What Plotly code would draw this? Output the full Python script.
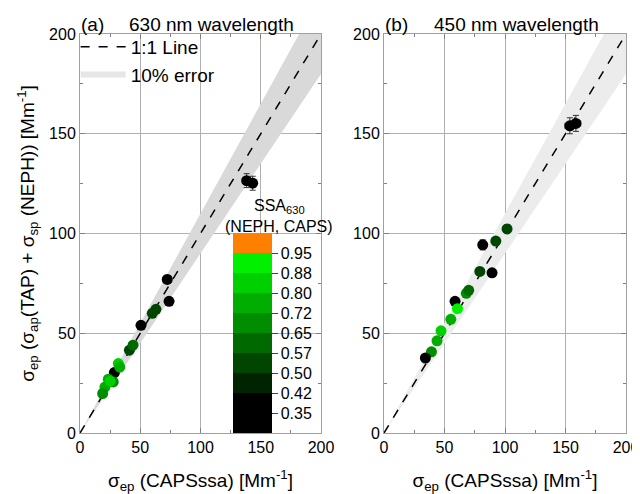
import plotly.graph_objects as go
from plotly.subplots import make_subplots

# ---------------- data ----------------
# Panel (a) 630 nm
a_x = [138.3, 143.3, 72.4, 73.9, 60.0, 63.0, 50.6, 41.0, 44.0, 28.5, 31.8, 33.0, 23.5, 27.6, 20.7, 18.8, 25.0]
a_y = [126.5, 125.2, 77.0, 66.0, 60.0, 62.0, 54.0, 41.5, 44.0, 30.3, 34.8, 33.0, 27.0, 25.6, 23.0, 19.8, 26.0]
a_ssa = [0.36, 0.38, 0.38, 0.40, 0.52, 0.54, 0.40, 0.55, 0.58, 0.40, 0.83, 0.78, 0.78, 0.70, 0.76, 0.68, 0.80]
a_ex = [3.0, 3.0, 1.5, 1.5, 1.0, 1.0, 1.0, 1.0, 1.0, 0.8, 0.8, 0.8, 0.6, 0.6, 0.6, 0.6, 0.6]
a_ey = [3.5, 3.5, 2.0, 1.5, 1.0, 1.0, 1.0, 1.0, 1.0, 0.8, 0.8, 0.8, 0.6, 0.6, 0.6, 0.6, 0.6]

# Panel (b) 450 nm
b_x = [153.6, 158.6, 101.7, 81.6, 92.4, 79.2, 89.3, 68.0, 70.0, 58.7, 60.7, 55.2, 47.1, 43.8, 39.2, 34.2]
b_y = [154.0, 155.2, 102.3, 94.3, 96.2, 81.0, 80.3, 70.0, 71.5, 66.0, 62.3, 57.0, 51.2, 46.2, 40.7, 37.6]
b_ssa = [0.37, 0.38, 0.53, 0.38, 0.55, 0.56, 0.40, 0.66, 0.62, 0.40, 0.90, 0.75, 0.85, 0.76, 0.70, 0.38]
b_ex = [4.0, 4.0, 1.5, 1.5, 1.5, 1.2, 1.2, 1.0, 1.0, 1.0, 1.0, 0.8, 0.8, 0.8, 0.8, 0.8]
b_ey = [4.0, 4.0, 2.0, 2.5, 1.5, 1.2, 1.2, 1.5, 1.0, 1.0, 1.0, 0.8, 0.8, 0.8, 0.8, 0.8]

# colour scale bins
bin_edges = [0.27, 0.345, 0.42, 0.495, 0.57, 0.645, 0.72, 0.795, 0.87, 0.945, 1.02]
bin_colors = ["#000000", "#000000", "#002400", "#004600", "#006a00", "#008e00",
              "#00ad00", "#00cf00", "#00f000", "#ff8000"]
cb_tickvals = [0.345, 0.42, 0.495, 0.57, 0.645, 0.72, 0.795, 0.87, 0.945]
cb_ticktext = ["0.35", "0.42", "0.50", "0.57", "0.65", "0.72", "0.80", "0.88", "0.95"]

line_x = [0, 200]
line_y = [0, 200]
band_x = [0, 200, 200, 0]
band_y = [0, 180, 220, 0]

# ---------------- build ----------------
cmin, cmax = bin_edges[0], bin_edges[-1]
colorscale = []
for i, c in enumerate(bin_colors):
    lo = (bin_edges[i] - cmin) / (cmax - cmin)
    hi = (bin_edges[i + 1] - cmin) / (cmax - cmin)
    colorscale.append([lo, c])
    colorscale.append([hi, c])

FONT = "Arial, Liberation Sans, sans-serif"

fig = make_subplots(rows=1, cols=2, horizontal_spacing=0.1154)
fig.update_layout(xaxis=dict(domain=[0, 0.4414]), xaxis2=dict(domain=[0.5568, 1]))

band_colors = ["#d9d9d9", "#ececec"]
for col in (1, 2):
    fig.add_trace(go.Scatter(x=band_x, y=band_y, fill="toself", mode="none",
                             fillcolor=band_colors[col - 1], name="10% error",
                             showlegend=False, hoverinfo="skip"), row=1, col=col)

fig.add_trace(go.Scatter(x=line_x, y=line_y, mode="lines", name="1:1 Line",
                         line=dict(color="black", dash="dash", width=1.5),
                         showlegend=True), row=1, col=1)
fig.add_trace(go.Scatter(x=line_x, y=line_y, mode="lines", name="1:1 Line",
                         line=dict(color="black", dash="dash", width=1.5),
                         showlegend=False), row=1, col=2)
fig.add_trace(go.Scatter(x=[None], y=[None], fill="toself", mode="none",
                         fillcolor="#e6e6e6", name="10% error", showlegend=True),
              row=1, col=1)

for col, (xs, ys, ss, ex, ey) in enumerate([(a_x, a_y, a_ssa, a_ex, a_ey),
                                             (b_x, b_y, b_ssa, b_ex, b_ey)], start=1):
    marker = dict(size=11, color=ss, colorscale=colorscale, cmin=cmin, cmax=cmax,
                  line=dict(width=0))
    if col == 1:
        marker.update(showscale=True, colorbar=dict(
            x=0.280, xanchor="left", y=0, yanchor="bottom", len=0.501, lenmode="fraction",
            thickness=39, xpad=0, ypad=0, outlinewidth=0,
            tickvals=cb_tickvals, ticktext=cb_ticktext, ticks="outside", ticklen=6,
            tickcolor="#444", tickfont=dict(size=16, color="black", family=FONT)))
    else:
        marker.update(showscale=False)
    fig.add_trace(go.Scatter(x=xs, y=ys, mode="markers", marker=marker, showlegend=False,
                             error_x=dict(type="data", array=ex, color="#333", thickness=1, width=3),
                             error_y=dict(type="data", array=ey, color="#333", thickness=1, width=3)),
                  row=1, col=col)

axis_common = dict(range=[0, 200], tickvals=[0, 50, 100, 150, 200], showgrid=True,
                   gridcolor="#b0b0b0", gridwidth=1, zeroline=False, showline=True,
                   linecolor="#a0a0a0", linewidth=1, mirror="ticks", ticks="inside",
                   ticklen=5, tickcolor="#808080", automargin=False,
                   minor=dict(dtick=25, tick0=0, ticks="inside", ticklen=3, tickcolor="#808080", showgrid=False),
                   tickfont=dict(size=16, color="black"))
fig.update_xaxes(**axis_common)
fig.update_yaxes(**axis_common)

xt = "σ<sub>ep</sub> (CAPSssa) [Mm<sup>-1</sup>]"
fig.update_xaxes(title=dict(text=xt, font=dict(size=19, color="black"), standoff=19), row=1, col=1)
fig.update_xaxes(title=dict(text=xt, font=dict(size=19, color="black"), standoff=19), row=1, col=2)
fig.update_yaxes(title=dict(text="σ<sub>ep</sub> (σ<sub>ap</sub>(TAP) + σ<sub>sp</sub> (NEPH)) [Mm<sup>-1</sup>]",
                            font=dict(size=19, color="black"), standoff=9), row=1, col=1)

fig.update_layout(
    width=632, height=486,
    margin=dict(l=72, r=14, t=26, b=61, autoexpand=False),
    paper_bgcolor="white", plot_bgcolor="white",
    font=dict(family=FONT, color="black"),
    legend=dict(x=-0.008, y=1.015, xanchor="left", yanchor="top", bgcolor="rgba(0,0,0,0)",
                font=dict(size=19), itemwidth=45, tracegroupgap=0),
    annotations=[
        dict(text="(a)", x=0, y=1.0, xref="paper", yref="paper", xanchor="left", yanchor="bottom",
             showarrow=False, font=dict(size=19), xshift=-1, yshift=-3),
        dict(text="630 nm wavelength", x=0.086, y=1.0, xref="paper", yref="paper", xanchor="left",
             yanchor="bottom", showarrow=False, font=dict(size=19), yshift=-3),
        dict(text="(b)", x=0.5568, y=1.0, xref="paper", yref="paper", xanchor="left", yanchor="bottom",
             showarrow=False, font=dict(size=19), xshift=-1, yshift=-3),
        dict(text="450 nm wavelength", x=0.645, y=1.0, xref="paper", yref="paper", xanchor="left",
             yanchor="bottom", showarrow=False, font=dict(size=19), yshift=-3),
        dict(text="SSA<sub>630</sub>", x=0.365, y=0.538, xref="paper", yref="paper", xanchor="center",
             yanchor="bottom", showarrow=False, font=dict(size=16)),
        dict(text="(NEPH, CAPS)", x=0.365, y=0.49, xref="paper", yref="paper", xanchor="center",
             yanchor="bottom", showarrow=False, font=dict(size=16)),
    ],
)

fig.write_html("out.html")
